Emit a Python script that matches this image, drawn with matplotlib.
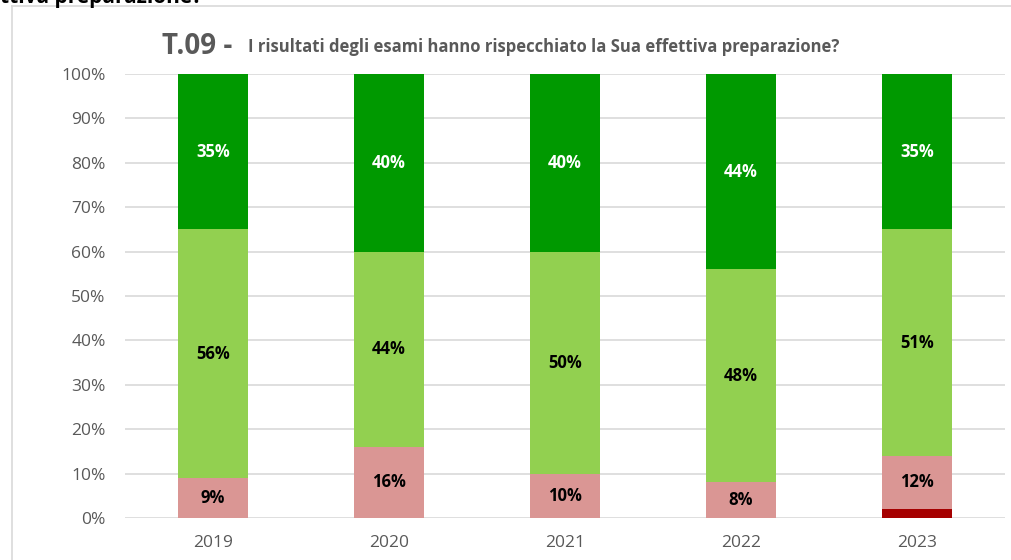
import matplotlib
matplotlib.use("Agg")
import matplotlib.pyplot as plt
from matplotlib.lines import Line2D

years = ["2019", "2020", "2021", "2022", "2023"]
dark_red = [0, 0, 0, 0, 2]
pink = [9, 16, 10, 8, 12]
light_green = [56, 44, 50, 48, 51]
dark_green = [35, 40, 40, 44, 35]
yticks = [0, 10, 20, 30, 40, 50, 60, 70, 80, 90, 100]

plt.rcParams['font.family'] = ['Open Sans', 'DejaVu Sans']

fig = plt.figure(figsize=(10.12, 5.6), dpi=100)
ax = fig.add_axes([125/1012, 1-518/560, 880/1012, 444/560])

x = list(range(len(years)))
w = 0.4
series = [(dark_red, "#A50000", None), (pink, "#DA9694", "black"),
          (light_green, "#92D050", "black"), (dark_green, "#009900", "white")]
bottom = [0]*len(years)
for vals, col, tcol in series:
    ax.bar(x, vals, w, bottom=bottom, color=col, zorder=3, linewidth=0)
    if tcol:
        for i, v in enumerate(vals):
            if v > 0:
                ax.text(x[i], bottom[i] + v/2, f"{v}%", ha="center", va="center",
                        color=tcol, fontsize=12, fontweight="bold", zorder=4)
    bottom = [b + v for b, v in zip(bottom, vals)]

ax.set_xlim(-0.5, 4.5)
ax.set_ylim(0, 100)
ax.set_yticks(yticks)
ax.set_yticklabels([f"{t}%" for t in yticks])
ax.set_xticks(x)
ax.set_xticklabels(years)
ax.yaxis.grid(True, color="#D9D9D9", linewidth=1.2, zorder=0)
for s in ax.spines.values():
    s.set_visible(False)
ax.tick_params(axis="both", length=0, labelsize=12.5, colors="#595959")
ax.tick_params(axis="y", pad=14)
ax.tick_params(axis="x", pad=12)

fig.text(162/1012, 1-46/560, "T.09 -", fontsize=20, fontweight="bold", color="#595959",
         ha="left", va="center")
fig.text(248/1012, 1-47/560, "I risultati degli esami hanno rispecchiato la Sua effettiva preparazione?",
         fontsize=12, fontweight="bold", color="#595959", ha="left", va="center")
fig.text(0, 1+2/560, "ttiva preparazione?", fontsize=15, fontweight="bold", color="black",
         ha="left", va="center")

fig.add_artist(Line2D([12/1012, 12/1012], [0, 1-6/560], transform=fig.transFigure,
                      color="#D9D9D9", linewidth=1.2))
fig.add_artist(Line2D([12/1012, 1], [1-6/560, 1-6/560], transform=fig.transFigure,
                      color="#D9D9D9", linewidth=1.2))

fig.savefig("out.png", dpi=100)
